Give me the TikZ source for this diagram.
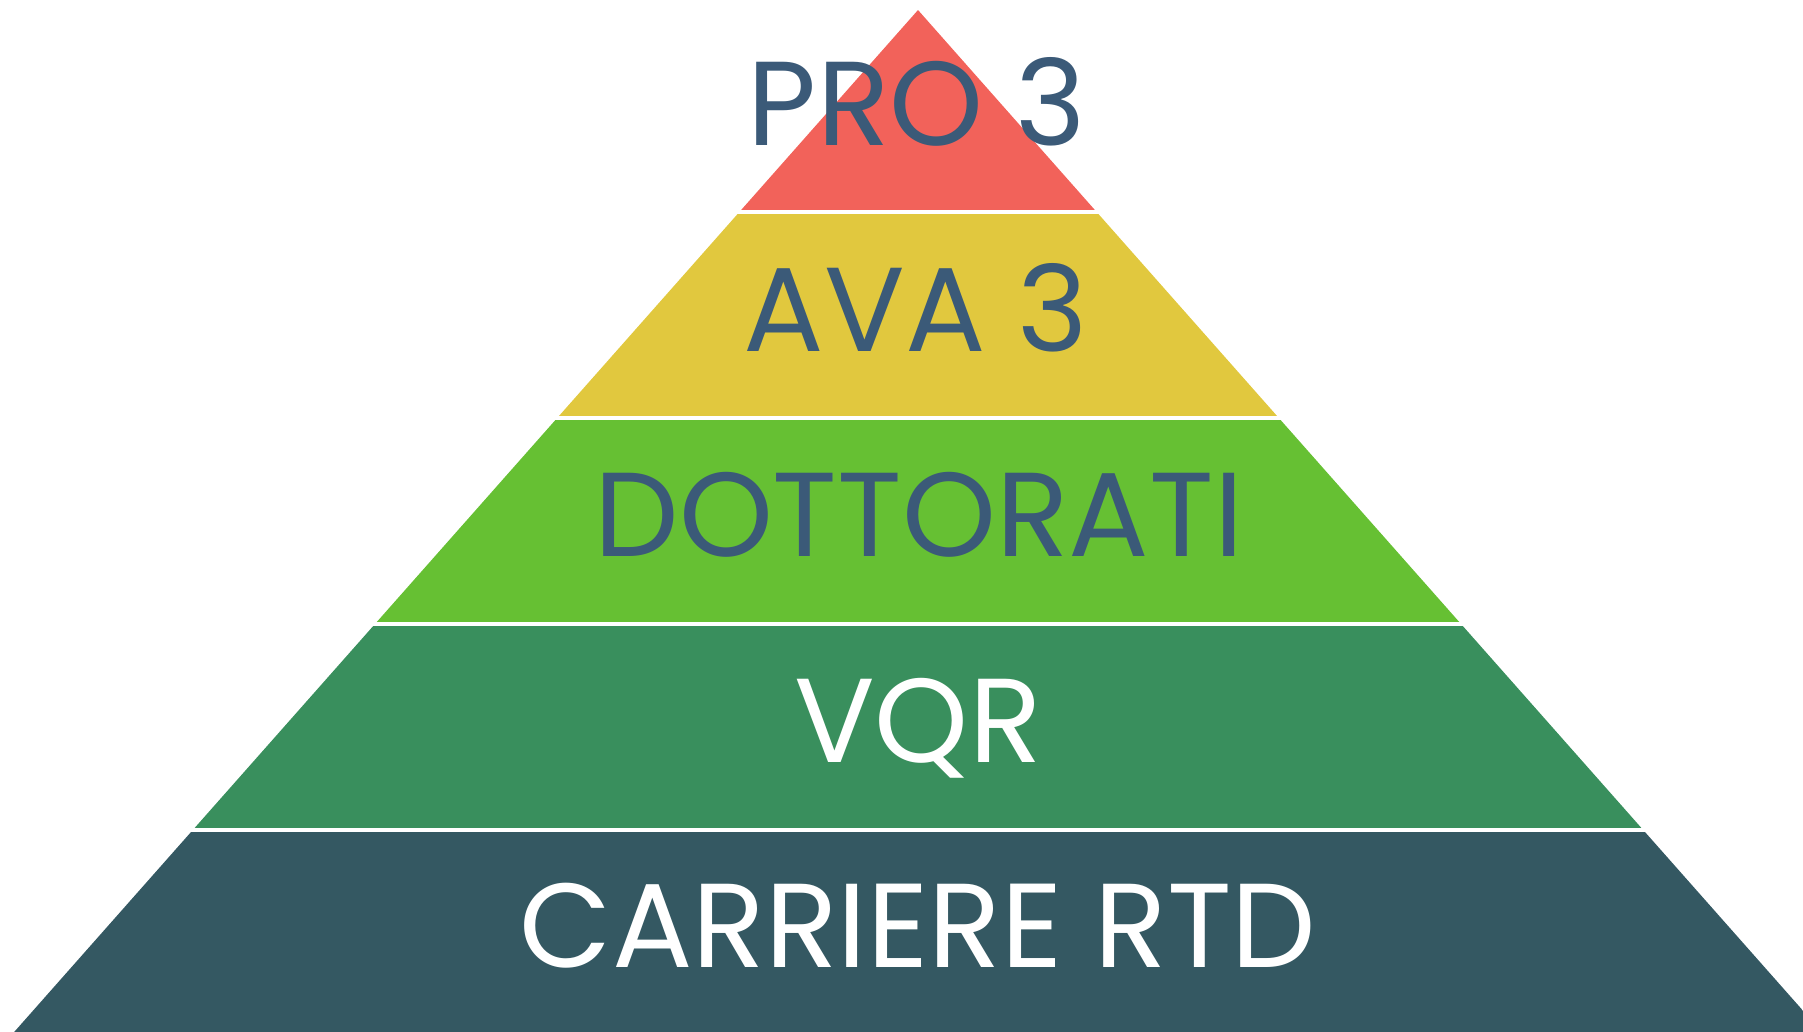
\documentclass[tikz,border=0pt]{standalone}
\usepackage{fontspec}
\setmainfont{Poppins}
\usepackage{xcolor}
\usetikzlibrary{positioning}
\definecolor{proRed}{HTML}{F2625A}
\definecolor{avaYellow}{HTML}{E1C83E}
\definecolor{dotGreen}{HTML}{66C033}
\definecolor{vqrGreen}{HTML}{398F5D}
\definecolor{rtdTeal}{HTML}{345862}
\definecolor{txtBlue}{HTML}{3B5A78}

\begin{document}
\begin{tikzpicture}[x=0.1mm, y=-0.1mm,
    tier/.style={font=\fontsize{34}{34}\selectfont, inner sep=0pt}]
    \useasboundingbox (0,0) rectangle (1803,1031);

    % pyramid, cut into bands
    \begin{scope}
        \clip (0,0) rectangle (1803,1031);
        \clip (918,10) -- (1882,1100) -- (-46,1100) -- cycle;
        \fill[proRed] (0,0) rectangle (1803,210);
        \fill[avaYellow] (0,214) rectangle (1803,416);
        \fill[dotGreen] (0,420) rectangle (1803,622);
        \fill[vqrGreen] (0,626) rectangle (1803,828);
        \fill[rtdTeal] (0,832) rectangle (1803,1100);
    \end{scope}

    \node[tier, text=txtBlue] (pro) at (917,102) {PRO 3};
    \node[tier, text=txtBlue] (ava) at (916,308) {AVA 3};
    \node[tier, text=txtBlue] (dot) at (919,515) {DOTTORATI};
    \node[tier, text=white] (vqr) at (918,728) {VQR};
    \node[tier, text=white] (rtd) at (918,926) {CARRIERE RTD};
\end{tikzpicture}
\end{document}
